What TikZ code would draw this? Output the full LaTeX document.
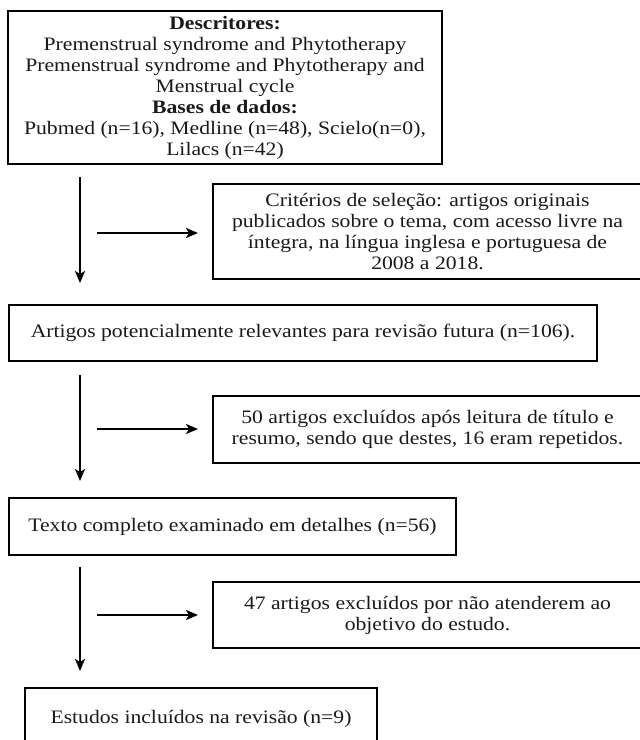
\documentclass[tikz,border=0pt]{standalone}
\usepackage{fontspec}
\setmainfont{Liberation Serif}[FakeStretch=1.14]
\usetikzlibrary{arrows.meta}
\definecolor{ink}{HTML}{1A1A1A}
\tikzset{
  box/.style={draw=black, line width=2pt, rectangle, inner sep=0pt, align=center,
    text=ink, font=\fontsize{19}{21}\selectfont},
  flow/.style={line width=2pt, -{Stealth[length=12pt,width=10pt,inset=3pt]}}
}
\begin{document}
\begin{tikzpicture}[x=1pt,y=-1pt]
\fill[white] (0,0) rectangle (640,740);
\useasboundingbox (0,0) rectangle (640,740);

\node[box, minimum width=434pt, minimum height=153pt] (b1) at (225,87.5)
  {\textbf{Descritores:}\\
   Premenstrual syndrome and Phytotherapy\\
   Premenstrual syndrome and Phytotherapy and\\
   Menstrual cycle\\
   \textbf{Bases de dados:}\\
   Pubmed (n=16), Medline (n=48), Scielo(n=0),\\
   Lilacs (n=42)};

\node[box, minimum width=429pt, minimum height=95pt] (b2) at (427.5,231.5)
  {Critérios de seleção: artigos originais\\
   publicados sobre o tema, com acesso livre na\\
   íntegra, na língua inglesa e portuguesa de\\
   2008 a 2018.};

\node[box, minimum width=588pt, minimum height=56pt] (b3) at (303,333)
  {Artigos potencialmente relevantes para revisão futura (n=106).};

\node[box, minimum width=429pt, minimum height=67pt] (b4) at (427.5,429.5)
  {50 artigos excluídos após leitura de título e\\
   resumo, sendo que destes, 16 eram repetidos.};

\node[box, minimum width=447pt, minimum height=57pt] (b5) at (232.5,526.5)
  {Texto completo examinado em detalhes (n=56)};

\node[box, minimum width=429pt, minimum height=66pt] (b6) at (427.5,615)
  {47 artigos excluídos por não atenderem ao\\
   objetivo do estudo.};

\node[box, minimum width=352pt, minimum height=62pt] (b7) at (201,719)
  {Estudos incluídos na revisão (n=9)};

\coordinate (v1s) at (80,177);
\coordinate (v1e) at (80,283);
\coordinate (h1s) at (97,233);
\coordinate (h1e) at (198,233);
\coordinate (v2s) at (80,375);
\coordinate (v2e) at (80,481);
\coordinate (h2s) at (97,429);
\coordinate (h2e) at (198,429);
\coordinate (v3s) at (80,567);
\coordinate (v3e) at (80,671);
\coordinate (h3s) at (97,615);
\coordinate (h3e) at (198,615);

\draw[flow] (v1s) -- (v1e);
\draw[flow] (h1s) -- (h1e);
\draw[flow] (v2s) -- (v2e);
\draw[flow] (h2s) -- (h2e);
\draw[flow] (v3s) -- (v3e);
\draw[flow] (h3s) -- (h3e);
\end{tikzpicture}
\end{document}
